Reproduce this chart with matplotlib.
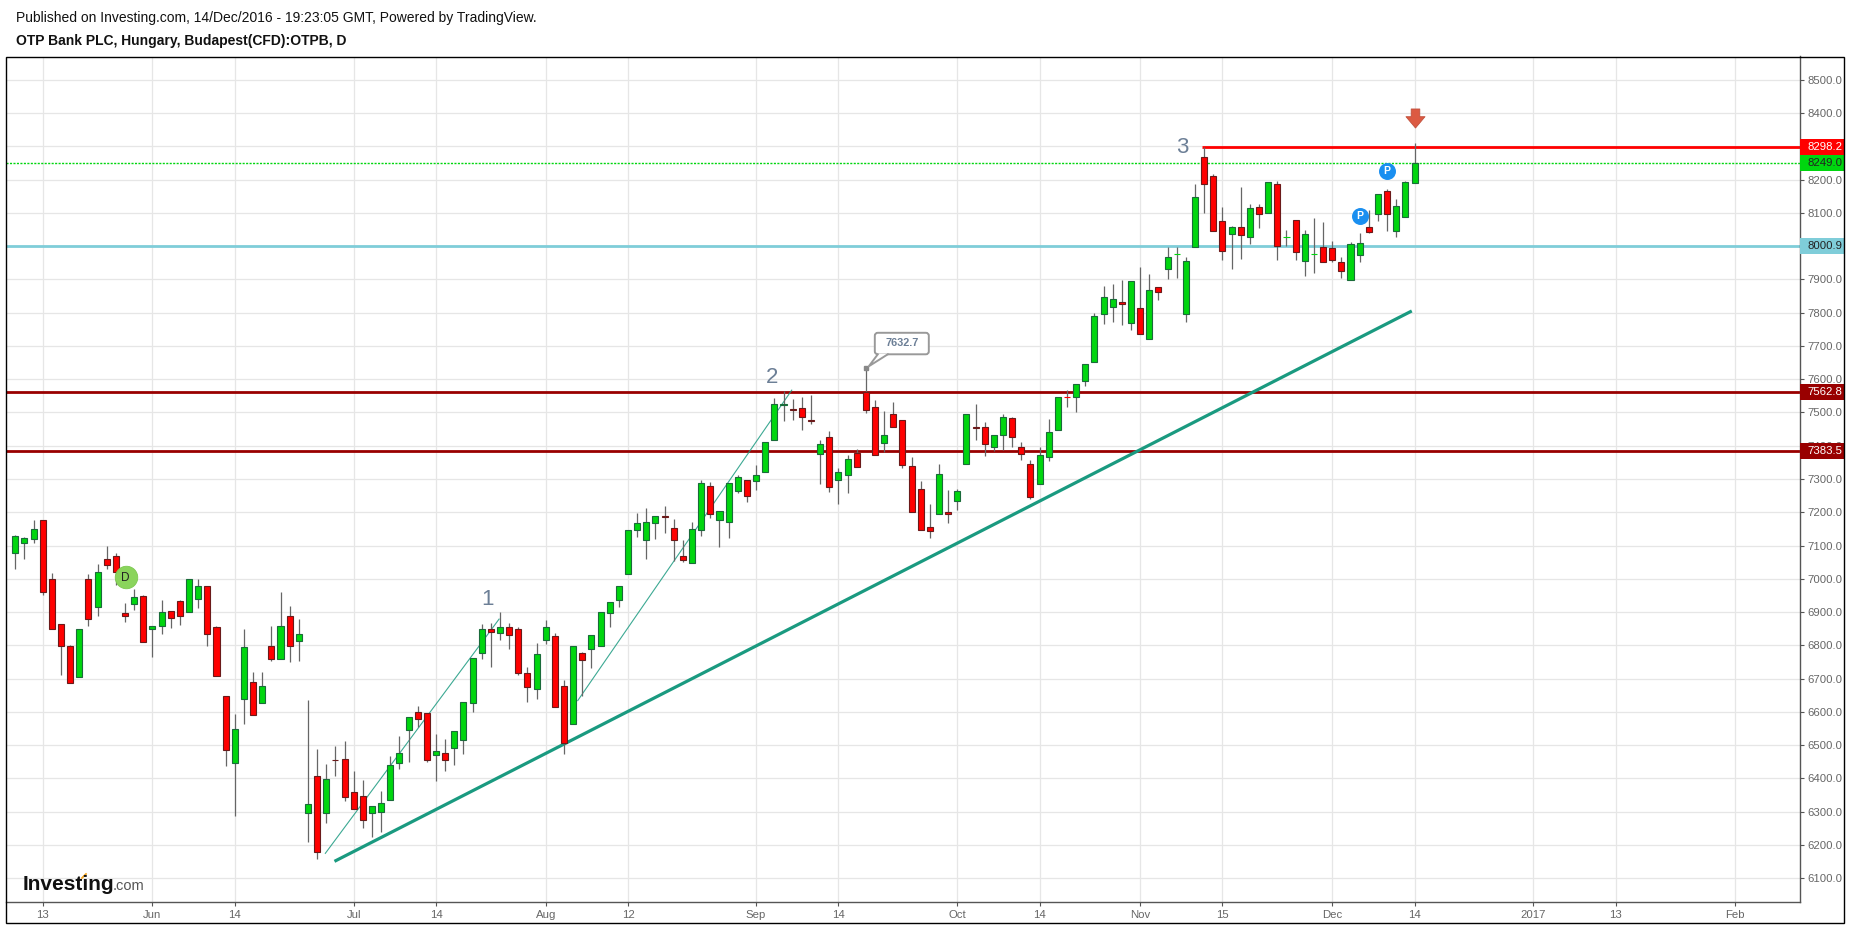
import matplotlib
matplotlib.use("Agg")
import matplotlib.pyplot as plt
from matplotlib.lines import Line2D
from matplotlib.patches import FancyBboxPatch, Polygon, Rectangle
from matplotlib.path import Path
from matplotlib.transforms import Affine2D

plt.rcParams["font.family"] = ["Liberation Sans", "DejaVu Sans"]

# daily candles
opens = [7077, 7109, 7121, 7176, 6999, 6864, 6798, 6704, 6999, 6914,
         7059, 7068, 6897, 6923, 6948, 6848, 6857, 6903, 6933, 6899,
         6939, 6978, 6855, 6648, 6446, 6638, 6690, 6626, 6798, 6758,
         6888, 6812, 6297, 6406, 6297, 6457, 6458, 6358, 6346, 6297,
         6300, 6336, 6448, 6547, 6599, 6596, 6471, 6476, 6493, 6517,
         6628, 6778, 6848, 6838, 6854, 6848, 6718, 6670, 6817, 6827,
         6677, 6565, 6776, 6790, 6799, 6898, 6937, 7015, 7148, 7118,
         7169, 7188, 7152, 7068, 7049, 7148, 7278, 7178, 7172, 7264,
         7297, 7293, 7320, 7417, 7522, 7510, 7513, 7476, 7374, 7426,
         7296, 7311, 7377, 7562, 7516, 7407, 7495, 7477, 7339, 7270,
         7156, 7194, 7201, 7233, 7344, 7456, 7456, 7395, 7431, 7483,
         7396, 7345, 7284, 7365, 7446, 7546.5, 7546, 7594, 7651, 7796,
         7816, 7833, 7768, 7814, 7720, 7877, 7931, 7977, 7795, 7997,
         8268, 8211, 8076, 8036, 8058, 8027, 8118, 8099, 8187, 8028,
         8079, 7955, 7977, 7998, 7995, 7952, 7898, 7973, 8058, 8096,
         8166, 8045, 8087, 8191]
highs = [7132, 7125, 7177, 7176, 7018, 6864, 6802, 6849, 7015, 7045,
         7099, 7078, 6928, 6970, 6951, 6858, 6937, 6903, 6937, 6999,
         7000, 6978, 6859, 6648, 6595, 6850, 6721, 6721, 6859, 6961,
         6919, 6880, 6636, 6488, 6444, 6498, 6513, 6423, 6395, 6316,
         6362, 6469, 6527, 6584, 6618, 6596, 6534, 6519, 6542, 6629,
         6761, 6864, 6867, 6900, 6867, 6855, 6735, 6807, 6876, 6836,
         6696, 6797, 6779, 6830, 6899, 6929, 6977, 7146, 7198, 7213,
         7188, 7219, 7179, 7117, 7170, 7298, 7290, 7203, 7287, 7311,
         7297, 7343, 7411, 7544, 7563, 7541, 7547, 7553, 7418, 7445,
         7334, 7372, 7390, 7632.7, 7538, 7505, 7532, 7477, 7367, 7295,
         7226, 7346, 7268, 7270, 7495, 7526, 7472, 7432, 7495, 7487,
         7412, 7357, 7396, 7481, 7547, 7568, 7586, 7646, 7798, 7879,
         7885, 7897, 7896, 7936, 7917, 7877, 7996, 7996, 7968, 8188,
         8298, 8217, 8116, 8061, 8179, 8127, 8127, 8193, 8196, 8047,
         8079, 8047, 8083, 8071, 8016, 7966, 8013, 8038, 8107, 8157,
         8172, 8140, 8196, 8310]
lows = [7030, 7060, 7109, 6952, 6848, 6712, 6686, 6704, 6859, 6889,
        7030, 6982, 6871, 6907, 6809, 6766, 6835, 6853, 6862, 6899,
        6913, 6799, 6707, 6439, 6286, 6565, 6590, 6626, 6754, 6758,
        6751, 6754, 6209, 6158, 6266, 6408, 6332, 6309, 6251, 6224,
        6239, 6336, 6428, 6450, 6556, 6450, 6393, 6423, 6441, 6473,
        6600, 6759, 6735, 6816, 6789, 6711, 6630, 6639, 6804, 6616,
        6473, 6565, 6648, 6732, 6799, 6855, 6915, 7015, 7126, 7060,
        7120, 7138, 7053, 7052, 7049, 7128, 7182, 7097, 7124, 7257,
        7232, 7268, 7320, 7417, 7475, 7478, 7448, 7466, 7286, 7262,
        7225, 7259, 7335, 7497, 7371, 7382, 7455, 7334, 7200, 7146,
        7124, 7194, 7169, 7208, 7344, 7418, 7368, 7383, 7388, 7397,
        7358, 7239, 7284, 7353, 7446, 7517, 7500, 7578, 7651, 7767,
        7773, 7764, 7749, 7735, 7720, 7839, 7900, 7903, 7773, 7997,
        8098, 8045, 7957, 7930, 7960, 8005, 8053, 8099, 7957, 7999,
        7957, 7909, 7919, 7952, 7952, 7903, 7898, 7952, 8039, 8074,
        8044, 8026, 8087, 8190]
closes = [7128, 7122, 7151, 6959, 6848, 6797, 6686, 6849, 6878, 7020,
          7043, 7022, 6887, 6945, 6809, 6858, 6900, 6881, 6887, 6999,
          6978, 6833, 6707, 6485, 6549, 6795, 6590, 6678, 6758, 6858,
          6797, 6834, 6322, 6178, 6397, 6455, 6345, 6309, 6276, 6316,
          6325, 6442, 6478, 6584, 6580, 6457, 6482, 6457, 6542, 6629,
          6761, 6848, 6841, 6854, 6832, 6718, 6676, 6773, 6854, 6616,
          6507, 6797, 6757, 6830, 6899, 6929, 6977, 7146, 7167, 7170,
          7188, 7186, 7118, 7058, 7149, 7287, 7196, 7203, 7287, 7307,
          7248, 7312, 7411, 7526, 7524, 7508, 7485, 7474, 7405, 7275,
          7321, 7360, 7335, 7507, 7371, 7432, 7455, 7341, 7200, 7146,
          7143, 7315, 7194, 7264, 7495, 7454, 7404, 7432, 7486, 7425,
          7374, 7245, 7372, 7441, 7546, 7546, 7586, 7646, 7790, 7848,
          7841, 7826, 7896, 7735, 7868, 7861, 7968, 7977.5, 7956, 8148,
          8186, 8045, 7985, 8058, 8033, 8115, 8096, 8193, 8000, 8028.5,
          7982, 8037, 7977.5, 7952, 7958, 7924, 8007, 8010, 8042, 8157,
          8096, 8121, 8193, 8249]

date_ticks = [3, 15, 24, 37, 46, 58, 67, 81, 90, 103, 112, 123, 132, 144, 153, 166, 175, 188]
date_labels = ["13", "Jun", "14", "Jul", "14", "Aug", "12", "Sep", "14", "Oct", "14",
               "Nov", "15", "Dec", "14", "2017", "13", "Feb"]
price_ticks = list(range(6100, 8600, 100))

last_price = 8249.0
resistance = 8298.2
support_cyan = 8000.9
support_dark = [7562.8, 7383.5]
trend_x, trend_y = [34.9, 152.7], [6151, 7805]
wedge1_x, wedge1_y = [33.9, 52.9], [6175, 6879]
wedge2_x, wedge2_y = [61.5, 84.9], [6634, 7567]

W, H = 1851, 926
LEFT, RIGHT, TOP, BOTTOM = 6, 1800, 56.5, 902
FRAME_RIGHT, FRAME_BOTTOM = 1844, 923

GREEN, RED = "#00d60f", "#ff0000"
GREY = "#666666"
SLATE = "#6c7f96"
TEAL = "#1a9a80"

def px(x):
    return x / W

def py(y):
    return 1 - y / H

fig = plt.figure(figsize=(W / 100, H / 100), dpi=100, facecolor="white")
ax = fig.add_axes([px(LEFT), py(BOTTOM), px(RIGHT - LEFT), (BOTTOM - TOP) / H])
ax.set_xlim(-1.017, 195.15)
ax.set_ylim(6028.8, 8569.7)

# frame
for side in ("top", "left"):
    ax.spines[side].set_visible(False)
for side in ("right", "bottom"):
    ax.spines[side].set_color("#555555")
    ax.spines[side].set_linewidth(1.0)
fig.add_artist(Rectangle((px(LEFT), py(FRAME_BOTTOM)), px(FRAME_RIGHT - LEFT), (FRAME_BOTTOM - TOP) / H,
                         transform=fig.transFigure, fill=False, ec="black", lw=1.0, zorder=20))

# axes
ax.yaxis.tick_right()
ax.set_xticks(date_ticks)
ax.set_xticklabels(date_labels)
ax.set_yticks(price_ticks)
ax.set_yticklabels([f"{p:.1f}" for p in price_ticks])
ax.tick_params(axis="both", length=3, width=0.8, color="#555555", labelcolor=GREY, labelsize=8.2, pad=2.5)
ax.grid(True, color="#e6e6e6", lw=0.9)
ax.set_axisbelow(True)

# drawn levels and trend lines sit under the candles
ax.axhline(support_cyan, color="#7fcdd9", lw=2.0, zorder=2)
for lvl in support_dark:
    ax.axhline(lvl, color="#990000", lw=2.0, zorder=2)
ax.plot([129.8, 195.15], [resistance, resistance], color=RED, lw=2.0, zorder=2, solid_capstyle="butt")
ax.axhline(last_price, color="#00d60f", lw=1.0, ls=(0, (1.5, 1)), zorder=2)
ax.plot(trend_x, trend_y, color=TEAL, lw=2.3, zorder=2, solid_capstyle="butt")
ax.plot(wedge1_x, wedge1_y, color=TEAL, lw=0.8, alpha=0.85, zorder=2)
ax.plot(wedge2_x, wedge2_y, color=TEAL, lw=0.8, alpha=0.85, zorder=2)

# candles
xs = list(range(len(opens)))
ax.vlines(xs, lows, highs, color=GREY, lw=0.9, zorder=3)
for x, o, c in zip(xs, opens, closes):
    up = c >= o
    fill = GREEN if up else RED
    # flat days show as a plain coloured dash, other bodies get a dark outline
    edge = fill if abs(c - o) <= 1 else ("#1a6b3a" if up else "#6b1a1a")
    ax.bar(x, abs(c - o), bottom=min(o, c), width=0.66, color=fill, edgecolor=edge, lw=0.8, zorder=4)

# count labels
for x, y, s in [(51.6, 6939, "1"), (82.7, 7606, "2"), (127.6, 8297, "3")]:
    ax.text(x, y, s, color=SLATE, fontsize=16, ha="center", va="center", zorder=6)

# high callout, laid out in pixels around the top of the wick
ax.plot([93], [7632.7], marker="s", ms=2.6, color="#888888", zorder=6)
anchor = Affine2D().translate(*ax.transData.transform((93, 7632.7)))
ax.add_patch(FancyBboxPatch((9, 14), 54, 21.5, boxstyle="round,pad=0,rounding_size=3", transform=anchor,
                            fc="white", ec="#999999", lw=1.4, clip_on=False, zorder=6))
ax.add_patch(Polygon([(3, 2), (12, 14.8), (22, 14.8)], closed=True, transform=anchor, fc="white", ec="none", zorder=6.1))
ax.add_line(Line2D([12, 3, 22], [14, 2, 14], transform=anchor, color="#999999", lw=1.4, zorder=6.2))
ax.annotate("7632.7", xy=(93, 7632.7), xytext=(36, 24.8), xycoords="data", textcoords="offset pixels",
            ha="center", va="center", fontsize=7.8, color=SLATE, fontweight="bold", zorder=7)

# event badges
ax.plot([12.07], [7004.6], marker="o", ms=16.2, mfc="#8ad45c", mec="#7cc850", mew=0.6, zorder=6)
ax.text(12.07, 7003, "D", fontsize=8.5, color="#222222", ha="center", va="center", zorder=7)
for x, y in [(147, 8091), (150, 8226.5)]:
    ax.plot([x], [y], marker="o", ms=11.2, mfc="#1a8ff0", mec="#1a8ff0", zorder=6)
    ax.text(x, y - 1, "P", fontsize=7.5, color="white", fontweight="bold", ha="center", va="center", zorder=7)

# signal arrow above the last candle
arrow = Path([(-0.45, 1), (0.45, 1), (0.45, 0.19), (1, 0.19), (0, -1), (-1, 0.19), (-0.45, 0.19), (-0.45, 1)], closed=True)
ax.plot([153], [8385.5], marker=arrow, ms=13.7, mfc="#dc5a42", mec="#c0503c", mew=0.6, zorder=6)

# axis price boxes
box_w = (FRAME_RIGHT - RIGHT) / (RIGHT - LEFT)
box_h = 48
for v, bg, fg in [(resistance, "#ff0000", "white"), (last_price, "#00d60f", "#222222"),
                  (support_cyan, "#7fcdd9", "#222222"), (support_dark[0], "#990000", "white"),
                  (support_dark[1], "#990000", "white")]:
    ax.add_patch(Rectangle((1, v - box_h / 2), box_w, box_h, transform=ax.get_yaxis_transform(),
                           fc=bg, ec="none", clip_on=False, zorder=8))
    ax.text(1 + 7 / (RIGHT - LEFT), v, f"{v:.1f}", transform=ax.get_yaxis_transform(), color=fg,
            fontsize=8.2, ha="left", va="center", clip_on=False, zorder=9)

# header
fig.text(px(15.5), py(18), "Published on Investing.com, 14/Dec/2016 - 19:23:05 GMT, Powered by TradingView.",
         fontsize=10, color="#111111", ha="left", va="center")
fig.text(px(15.5), py(40.7), "OTP Bank PLC, Hungary, Budapest(CFD):OTPB, D",
         fontsize=10, color="#111111", fontweight="bold", ha="left", va="center")

# logo
fig.text(px(22.5), py(885), "Investing", fontsize=15, fontweight="bold", color="#111111", ha="left", va="center")
fig.text(px(113), py(886.5), ".com", fontsize=10.5, color="#555555", ha="left", va="center")
fig.add_artist(Line2D([px(82), px(86)], [py(878), py(874)], transform=fig.transFigure, color="#f5a623", lw=1.3))

fig.savefig("out.png", dpi=100, facecolor="white")
